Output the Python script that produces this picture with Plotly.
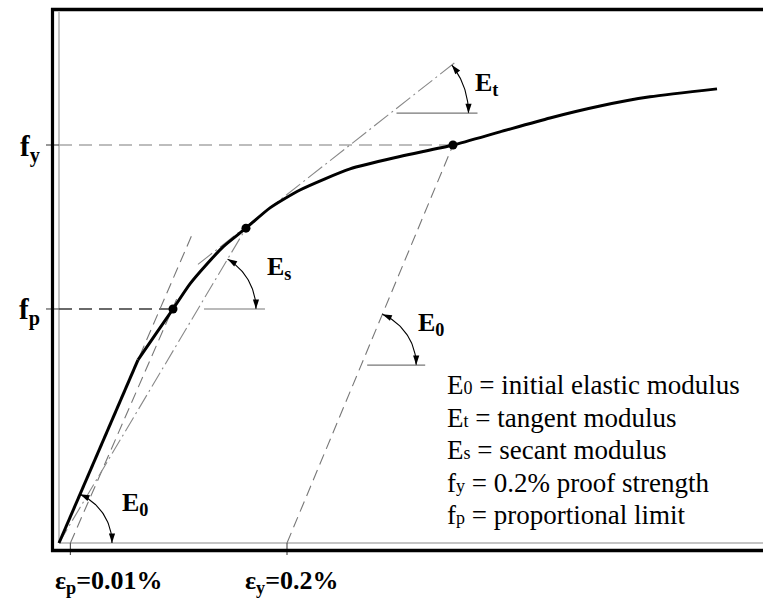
import math
import plotly.graph_objects as go

# ---------------- data: strain in %, stress normalised by f_y ----------------
curve_strain = [0.0, 0.0693, 0.0860, 0.1000, 0.1149, 0.1298, 0.1439, 0.1640,
                0.1851, 0.2114, 0.2553, 0.2991, 0.3456, 0.3868, 0.4307, 0.4746,
                0.5184, 0.5772]
curve_stress = [0.0, 0.460, 0.530, 0.588, 0.651, 0.701, 0.744, 0.791,
                0.842, 0.887, 0.940, 0.971, 1.000, 1.033, 1.068, 1.098,
                1.121, 1.141]
LINEAR_END = 1                      # index where the linear-elastic branch ends

EPS_P, EPS_Y = 0.01, 0.2            # offset strains (%)
F_P, F_Y = 0.588, 1.0               # proportional limit, 0.2% proof strength
ES_POINT = (0.164, 0.791)           # point used for the secant modulus
E0 = 0.460 / 0.0693                 # initial modulus (slope of the elastic branch)
ET_POINT, ET_SLOPE = (0.1939, 0.862), 2.25   # tangent-modulus construction
ET_SPAN = (0.70, 1.21)              # stress extent of the tangent line

tick_labels_x = ["ε<sub>p</sub>=0.01%", "ε<sub>y</sub>=0.2%"]
tick_labels_y = ["f<sub>p</sub>", "f<sub>y</sub>"]

legend_sym = ["E", "E", "E", "f", "f"]
legend_sub = ["0", "t", "s", "y", "p"]
legend_desc = ["initial elastic modulus", "tangent modulus", "secant modulus",
               "0.2% proof strength", "proportional limit"]

# ---------------- scales ----------------
W, H = 763, 598
SX, SY = 1140.0, 398.0        # pixels per unit strain / unit stress
X0, Y0 = 59.0, 543.0          # pixel position of the origin
SERIF = "Liberation Serif, Times New Roman, serif"


def to_px(x, y):
    return X0 + x * SX, Y0 - y * SY


def to_data(px, py):
    return (px - X0) / SX, (Y0 - py) / SY


fig = go.Figure()


def add_line(xs, ys, color, width, dash=None, shape="linear", smoothing=None):
    ln = dict(color=color, width=width, shape=shape)
    if dash:
        ln["dash"] = dash
    if smoothing is not None:
        ln["smoothing"] = smoothing
    fig.add_trace(go.Scatter(x=xs, y=ys, mode="lines", line=ln,
                             hoverinfo="skip", showlegend=False))


annotations = []
shapes = []

# ---------------- frame ----------------
FRAME = "black"
shapes += [
    dict(type="line", xref="paper", yref="paper", x0=51 / W, x1=1,
         y0=1 - 9.5 / H, y1=1 - 9.5 / H, line=dict(color=FRAME, width=3.5)),
    dict(type="line", xref="paper", yref="paper", x0=51 / W, x1=1,
         y0=1 - 550.5 / H, y1=1 - 550.5 / H, line=dict(color=FRAME, width=3.5)),
    dict(type="line", xref="paper", yref="paper", x0=52.5 / W, x1=52.5 / W,
         y0=1 - 8 / H, y1=1 - 552 / H, line=dict(color=FRAME, width=3.2)),
]
top_stress = to_data(0, 12)[1]
right_strain = to_data(W, 0)[0]
# light axes through the origin
add_line([0, 0], [0, top_stress], "#b0b0b0", 1.5)
add_line([0, right_strain], [0, 0], "#b0b0b0", 1.5)

# ticks
tick_dx = 13 / SX
tick_dy = 12 / SY
for e in (EPS_P, EPS_Y):
    add_line([e, e], [0, -tick_dy], "#555555", 1.2)
for f in (F_P, F_Y):
    add_line([-tick_dx, 0], [f, f], "#555555", 1.2)

# ---------------- construction lines ----------------
fp_x = curve_strain[curve_stress.index(F_P)]
fy_x = curve_strain[curve_stress.index(F_Y)]
# horizontal stress levels
add_line([0, fy_x], [F_Y, F_Y], "#a8a8a8", 1.5, dash="13px,7px")
add_line([0, fp_x], [F_P, F_P], "#3a3a3a", 1.3, dash="13px,7px")
# offset lines parallel to the elastic branch
add_line([EPS_Y, fy_x], [0, F_Y], "#777777", 1.1, dash="11px,6px")
add_line([EPS_P, fp_x + 0.004], [0, F_P + 0.03], "#777777", 1.1, dash="11px,6px")
# initial tangent from the origin
e0_top = 0.78
add_line([0, e0_top / E0], [0, e0_top], "#777777", 1.1, dash="11px,6px")
# secant to the E_s point
add_line([0, ES_POINT[0]], [0, ES_POINT[1]], "#888888", 1.1, dash="16px,4px,2px,4px")
# tangent line for E_t
et_x = [ET_POINT[0] + (s - ET_POINT[1]) / ET_SLOPE for s in ET_SPAN]
add_line(et_x, list(ET_SPAN), "#888888", 1.1, dash="18px,4px,2px,4px")

# ---------------- stress-strain curve ----------------
add_line(curve_strain[:LINEAR_END + 1], curve_stress[:LINEAR_END + 1], "black", 3)
add_line(curve_strain[LINEAR_END:], curve_stress[LINEAR_END:], "black", 3,
         shape="spline", smoothing=0.6)

fig.add_trace(go.Scatter(
    x=[fp_x, ES_POINT[0], fy_x], y=[F_P, ES_POINT[1], F_Y], mode="markers",
    marker=dict(color="black", size=9), hoverinfo="skip", showlegend=False))

# ---------------- angle markers ----------------
head_x, head_y, head_ang = [], [], []


def angle_mark(vx, vy, slope, r, horiz=True):
    pvx, pvy = to_px(vx, vy)
    ang = math.atan(slope * SY / SX)
    n = 40
    xs, ys = [], []
    for i in range(n + 1):
        t = ang * i / n
        d = to_data(pvx + r * math.cos(t), pvy - r * math.sin(t))
        xs.append(d[0])
        ys.append(d[1])
    add_line(xs, ys, "black", 1.1)
    # arrow tips at both ends of the arc, pointing along it
    for t, bearing in ((0.0, 180.0), (ang, -math.degrees(ang))):
        hx, hy = to_data(pvx + r * math.cos(t), pvy - r * math.sin(t))
        head_x.append(hx)
        head_y.append(hy)
        head_ang.append(bearing)
    if horiz:
        hx0 = to_data(pvx + 6, pvy)[0]
        hx1 = to_data(pvx + r + 9, pvy)[0]
        add_line([hx0, hx1], [vy, vy], "#777777", 1.2)
    return pvx, pvy


# E0 at the origin
angle_mark(0.0, 0.0, E0, 53, horiz=False)
# Es on the secant, horizontal at f_p level
es_slope = ES_POINT[1] / ES_POINT[0]
angle_mark(F_P / es_slope, F_P, es_slope, 58)
# Et on the tangent line
et_level = 1.08
et_vx = ET_POINT[0] + (et_level - ET_POINT[1]) / ET_SLOPE
angle_mark(et_vx, et_level, ET_SLOPE, 78)
# E0 on the 0.2% offset line
off_slope = F_Y / (fy_x - EPS_Y)
off_level = 0.447
angle_mark(EPS_Y + off_level / off_slope, off_level, off_slope, 55)

fig.add_trace(go.Scatter(
    x=head_x, y=head_y, mode="markers",
    marker=dict(symbol="arrow", size=10, angle=head_ang, color="black",
                line=dict(width=0)),
    hoverinfo="skip", showlegend=False))

# ---------------- labels ----------------
BOLD = dict(family=SERIF, size=26, color="black")


def bold_label(text, px, py, anchor="center"):
    x, y = to_data(px, py)
    annotations.append(dict(x=x, y=y, xref="x", yref="y", text="<b>" + text + "</b>",
                            showarrow=False, font=BOLD, xanchor=anchor,
                            yanchor="middle"))


bold_label("E<sub>t</sub>", 486, 84)
bold_label("E<sub>s</sub>", 279, 268)
bold_label("E<sub>0</sub>", 431, 324)
bold_label("E<sub>0</sub>", 135, 504)

for f, lab in zip((F_P, F_Y), tick_labels_y):
    annotations.append(dict(x=0, y=f, xref="x", yref="y", text="<b>" + lab + "</b>",
                            showarrow=False, font=dict(family=SERIF, size=29, color="black"),
                            xanchor="right", yanchor="middle", xshift=-17, yshift=-3))

annotations.append(dict(x=EPS_P, y=0, xref="x", yref="y",
                        text="<b>" + tick_labels_x[0] + "</b>", showarrow=False,
                        font=BOLD, xanchor="left", yanchor="middle",
                        xshift=-17, yshift=-39))
annotations.append(dict(x=EPS_Y, y=0, xref="x", yref="y",
                        text="<b>" + tick_labels_x[1] + "</b>", showarrow=False,
                        font=BOLD, xanchor="center", yanchor="middle",
                        xshift=5, yshift=-39))

# definitions block
leg_x = to_data(445, 0)[0]
for i, (s, sub, desc) in enumerate(zip(legend_sym, legend_sub, legend_desc)):
    y = to_data(0, 385 + 32.5 * i)[1]
    txt = f"{s}<span style='font-size:18px'>{sub}</span> = {desc}"
    annotations.append(dict(x=leg_x, y=y, xref="x", yref="y", text=txt,
                            showarrow=False, xanchor="left", yanchor="middle",
                            font=dict(family=SERIF, size=27, color="black")))

x_lo, y_hi = to_data(0, 0)
x_hi, y_lo = to_data(W, H)
fig.update_layout(
    width=W, height=H, autosize=False,
    margin=dict(l=0, r=0, t=0, b=0),
    paper_bgcolor="white", plot_bgcolor="white",
    xaxis=dict(range=[x_lo, x_hi], visible=False, fixedrange=True),
    yaxis=dict(range=[y_lo, y_hi], visible=False, fixedrange=True),
    shapes=shapes, annotations=annotations, showlegend=False,
)

fig.write_html("out.html")
